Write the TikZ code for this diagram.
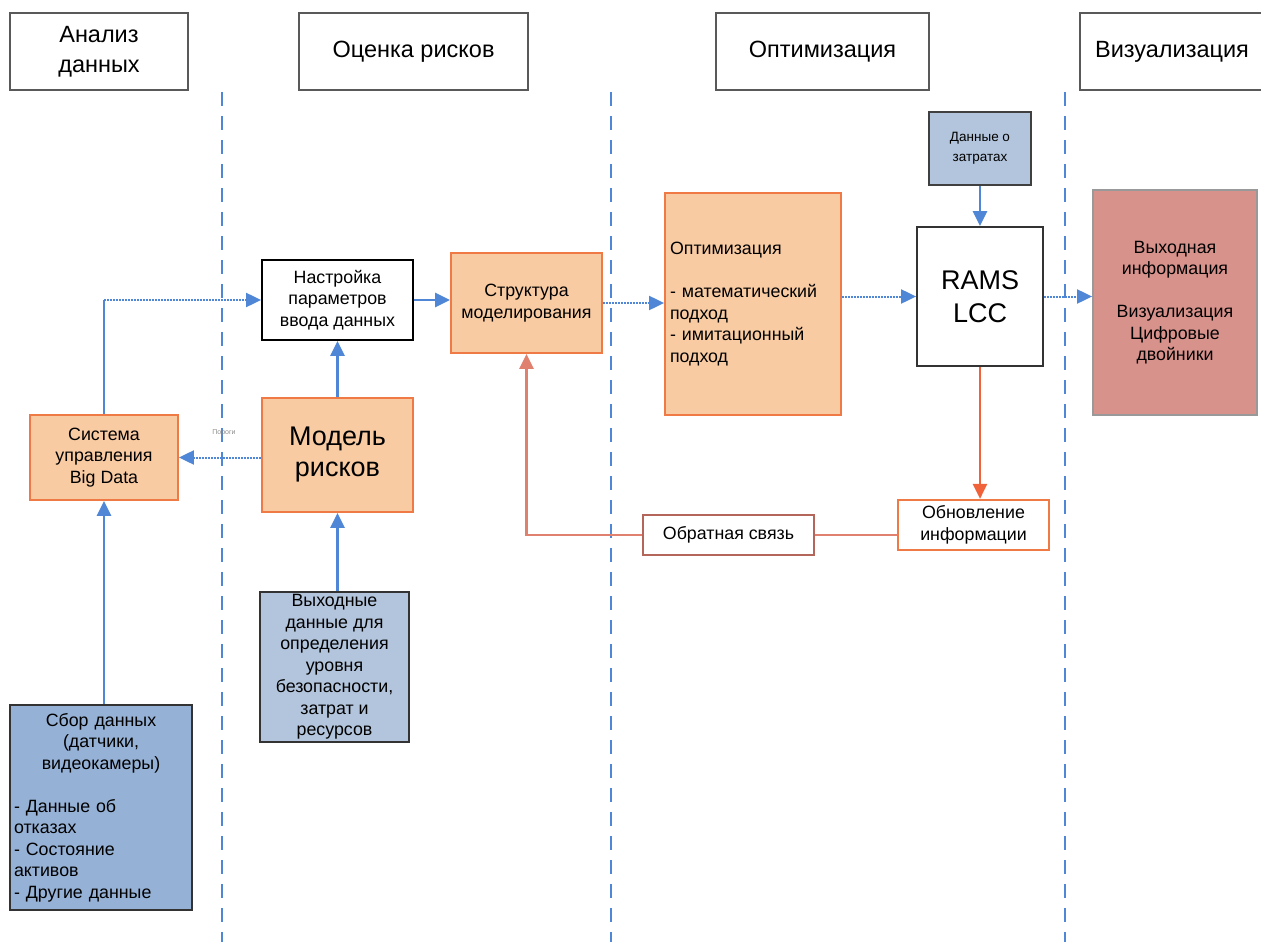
\documentclass[tikz,border=0pt]{standalone}
\usepackage{fontspec}
\setmainfont{Liberation Sans}
\usetikzlibrary{arrows.meta}
\definecolor{blueline}{HTML}{4F86D6}
\definecolor{orfill}{HTML}{F9CBA3}
\definecolor{orline}{HTML}{F07A45}
\definecolor{redarr}{HTML}{F0633A}
\definecolor{fbline}{HTML}{E0806F}
\definecolor{gbfill}{HTML}{B3C5DC}
\definecolor{dbfill}{HTML}{95B1D5}
\definecolor{rosefill}{HTML}{D8928C}
\tikzset{
  hdr/.style={draw=black!65, line width=1.4, fill=white, minimum height=77, align=center, font=\fontsize{23.5}{30}\selectfont, inner sep=0},
  box/.style={line width=1.8, align=center, inner sep=0, font=\fontsize{17.8}{21.5}\selectfont},
  orbox/.style={box, draw=orline, fill=orfill},
  vsep/.style={draw=blueline, line width=1.8, dash pattern=on 14 off 10},
  bar/.style={blueline, line width=2.4, -{Triangle[length=15,width=14]}},
  dotarr/.style={bar, line width=2, dash pattern=on 2 off 1},
  redar/.style={redarr, line width=2.4, -{Triangle[length=15,width=14]}},
}
\begin{document}
\begin{tikzpicture}[x=1pt,y=-1pt]
\useasboundingbox (0,0) rectangle (1261,942);
% separators
\draw[vsep] (222,92) -- (222,942);
\draw[vsep] (611,92) -- (611,942);
\draw[vsep] (1065,92) -- (1065,942);
% headers
\node[hdr, minimum width=178] (h1) at (99,51.5) {Анализ\\данных};
\node[hdr, minimum width=229] (h2) at (413.5,51.5) {Оценка рисков};
\node[hdr, minimum width=213] (h3) at (822.5,51.5) {Оптимизация};
\node[hdr, minimum width=184] (h4) at (1172,51.5) {Визуализация};
% nodes
\node[orbox, minimum width=148, minimum height=85] (bd) at (104,457.5) {Система\\управления\\Big Data};
\node[box, draw=black, fill=white, minimum width=151, minimum height=80] (np) at (337.5,300) {Настройка\\параметров\\ввода данных};
\node[orbox, minimum width=151, minimum height=114, font=\fontsize{27}{31}\selectfont] (mr) at (337.5,455) {Модель\\рисков};
\node[orbox, minimum width=151, minimum height=100] (sm) at (526.5,303) {Структура\\моделирования};
\node[orbox, minimum width=176, minimum height=222, text width=166, align=left] (opt) at (753,304) {Оптимизация\\[21.5pt]- математический\\подход\\- имитационный\\подход};
\node[box, draw=black!75, fill=gbfill, minimum width=102, minimum height=73, font=\fontsize{13.5}{20}\selectfont] (dz) at (980,148.5) {Данные о\\затратах};
\node[box, draw=black!80, fill=white, minimum width=126, minimum height=139, font=\fontsize{27}{33}\selectfont] (rams) at (980,296.5) {RAMS\\LCC};
\node[box, draw=black!40, fill=rosefill, minimum width=164, minimum height=225] (vy) at (1175,302.5) {Выходная\\информация\\[21.5pt]Визуализация\\Цифровые\\двойники};
\node[box, draw=orline, fill=white, minimum width=151, minimum height=50, line width=2.2] (ob) at (973.5,525) {Обновление\\информации};
\node[box, draw=fbline!80!black, fill=white, minimum width=171, minimum height=40, line width=1.5] (fb) at (728.5,535) {Обратная связь};
\node[box, draw=black!80, fill=gbfill, minimum width=149, minimum height=150] (vd) at (334.5,667) {Выходные\\данные для\\определения\\уровня\\безопасности,\\затрат и\\ресурсов};
\node[box, draw=black!80, fill=dbfill, minimum width=182, minimum height=205, text width=174, align=left] (sd) at (101,807.5) {\makebox[174pt][c]{Сбор данных}\\\makebox[174pt][c]{(датчики,}\\\makebox[174pt][c]{видеокамеры)}\\[21.5pt]- Данные об\\отказах\\- Состояние\\активов\\- Другие данные};
\node[font=\fontsize{7}{8}\selectfont, text=black!45, inner sep=1] (lbl) at (224,433) {Пороги};
% connectors
\draw[bar] (bd.south |- sd.north) -- (bd.south);
\draw[blueline, line width=2.4] (bd.north) -- (104,300);
\draw[dotarr] (104,300) -- (np.west);
\draw[dotarr] (mr.west |- bd.east) -- (bd.east);
\draw[bar] (mr.north) -- (np.south);
\draw[bar] (vd.north -| mr.south) -- (mr.south);
\draw[bar] (np.east) -- (sm.west |- np.east);
\draw[dotarr] (sm.east) -- (opt.west |- sm.east);
\draw[dotarr] (opt.east |- rams.west) -- (rams.west);
\draw[bar] (dz.south) -- (rams.north);
\draw[dotarr] (rams.east) -- (vy.west |- rams.east);
\draw[redar] (rams.south) -- (rams.south |- ob.north);
\draw[fbline, line width=2.4] (ob.west |- fb.east) -- (fb.east);
\draw[redar, fbline, line width=2.4] (fb.west) -- (sm.south |- fb.west) -- (sm.south);
\end{tikzpicture}
\end{document}
